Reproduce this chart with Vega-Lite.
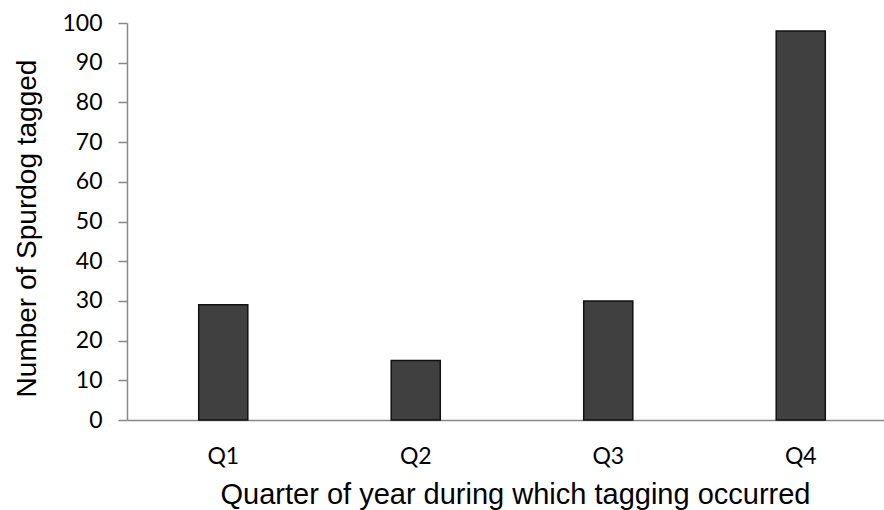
{
  "$schema": "https://vega.github.io/schema/vega-lite/v6.json",
  "width": 757,
  "height": 397,
  "autosize": {"type": "none"},
  "padding": {"left": 127, "top": 23, "right": 0, "bottom": 90},
  "background": "white",
  "config": {"view": {"stroke": null}},
  "data": {
    "values": [
      {"quarter": "Q1", "count": 29},
      {"quarter": "Q2", "count": 15},
      {"quarter": "Q3", "count": 30},
      {"quarter": "Q4", "count": 98}
    ]
  },
  "mark": {"type": "bar", "fill": "#404040", "stroke": "#111111", "strokeWidth": 1.5},
  "encoding": {
    "x": {
      "field": "quarter",
      "type": "nominal",
      "sort": null,
      "scale": {"range": [0, 770], "paddingInner": 0.745, "paddingOuter": 0.3725},
      "axis": {
        "title": "Quarter of year during which tagging occurred",
        "titleFont": "Liberation Sans",
        "titleFontSize": 29,
        "titleFontWeight": "normal",
        "titleColor": "#000000",
        "titleBaseline": "alphabetic",
        "titleAnchor": "middle",
        "titleX": 388,
        "titleY": 83,
        "labelFont": "Lato",
        "labelFontSize": 23,
        "labelColor": "#000000",
        "labelAngle": 0,
        "labelPadding": 25,
        "ticks": false,
        "tickSize": 0,
        "domainColor": "#888888",
        "domainWidth": 1.5,
        "grid": false
      }
    },
    "y": {
      "field": "count",
      "type": "quantitative",
      "scale": {"domain": [0, 100], "nice": false},
      "axis": {
        "title": "Number of Spurdog tagged",
        "titleFont": "Liberation Sans",
        "titleFontSize": 28,
        "titleFontWeight": "normal",
        "titleColor": "#000000",
        "titleBaseline": "alphabetic",
        "titleAngle": -90,
        "titleX": -92,
        "titleY": 205,
        "values": [0, 10, 20, 30, 40, 50, 60, 70, 80, 90, 100],
        "labelFont": "Lato",
        "labelFontSize": 23,
        "labelColor": "#000000",
        "labelPadding": 16,
        "tickSize": 9,
        "tickColor": "#888888",
        "tickWidth": 1.5,
        "domainColor": "#888888",
        "domainWidth": 1.5,
        "grid": false
      }
    }
  }
}
